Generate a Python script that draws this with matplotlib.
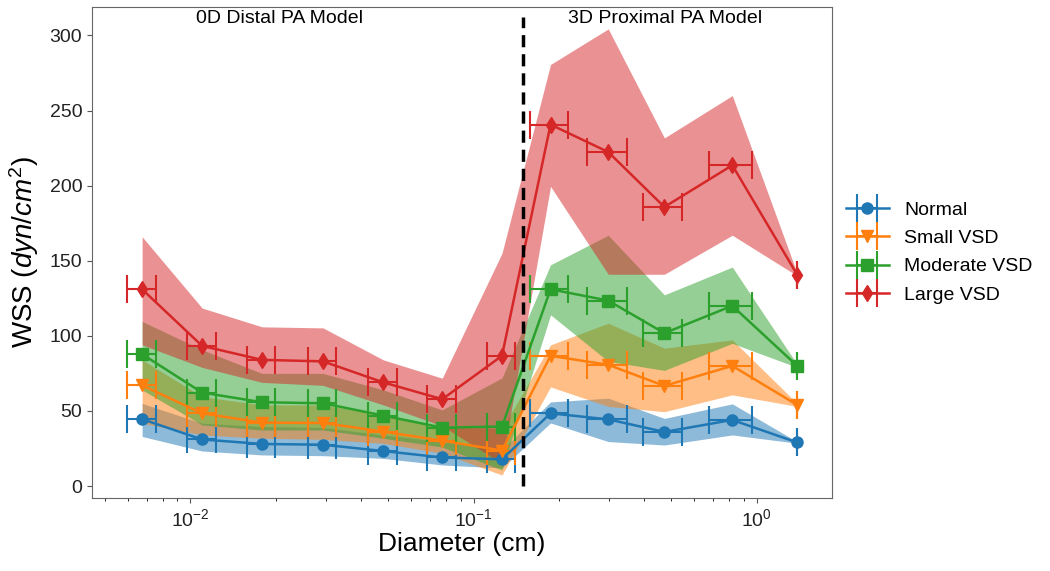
import numpy as np
import matplotlib
matplotlib.use("Agg")
from matplotlib import pyplot as plt

plt.rcParams['font.family'] = ['Liberation Sans', 'DejaVu Sans']
plt.rcParams['mathtext.fontset'] = 'custom'
plt.rcParams['mathtext.rm'] = 'Liberation Sans'
plt.rcParams['mathtext.it'] = 'Liberation Sans:italic'

# diameters (cm): 7 distal 0D vessels, 5 proximal 3D vessels
diam = [0.00675, 0.0110, 0.0179, 0.0294, 0.0480, 0.0775, 0.126,
        0.187, 0.299, 0.472, 0.820, 1.39]
diam_err = [0.00078, 0.00127, 0.00206, 0.00338, 0.00552, 0.0089, 0.0145,
            0.029, 0.048, 0.074, 0.14, 0.0]

labels = ["Normal", "Small VSD", "Moderate VSD", "Large VSD"]

normal = [44.5, 31, 28, 27.5, 23.3, 19, 17.8, 48.4, 44.4, 36, 44, 29]
normal_lo = [33, 23.3, 20.7, 20.2, 18.4, 14, 12, 42, 29.6, 27.3, 34, 28.5]
normal_hi = [55, 41.8, 39.6, 39, 34, 29.6, 24, 56, 58.5, 45, 54.7, 29.5]

small = [67, 48.4, 42.2, 42, 36.2, 30.2, 23.6, 86.7, 80.7, 66.7, 80, 54]
small_lo = [41.8, 34, 31.8, 31.1, 28.4, 21.8, 7.3, 66, 53, 49.5, 60.7, 53]
small_hi = [84, 59.5, 54, 54, 47.3, 39.6, 38, 94, 108.4, 91.8, 97.3, 55]

moderate = [87.8, 62.2, 55.8, 55.1, 46.9, 38.9, 39.6, 131, 123.5, 101.8, 120, 80]
moderate_lo = [64, 40.7, 37.3, 37.3, 31.8, 26, 10.7, 114, 83, 77, 95, 79]
moderate_hi = [109.6, 90.7, 75, 75, 64, 50.7, 72, 147.3, 167, 127.3, 145.8, 81]

large = [131, 93.3, 84, 83, 69, 57.8, 86.7, 240.7, 222.4, 185.8, 213.6, 140.7]
large_lo = [94, 79, 69, 67, 54, 40, 15, 199.5, 141, 141, 167, 140]
large_hi = [166, 118.5, 106, 105.3, 84, 71.8, 155, 280.7, 304.4, 231.8, 260, 141.5]

series = [(normal, normal_lo, normal_hi, "o", "tab:blue"),
          (small, small_lo, small_hi, "v", "tab:orange"),
          (moderate, moderate_lo, moderate_hi, "s", "tab:green"),
          (large, large_lo, large_hi, "d", "tab:red")]

DIVIDER = 0.15

fig = plt.figure(figsize=(10.5, 5.71), dpi=100)
ax = fig.add_axes([0.0876, 0.1278, 0.7048, 0.860])

for (mean, lo, hi, mk, col), lab in zip(series, labels):
  ax.fill_between(diam, lo, hi, color=col, alpha=0.5, linewidth=0)
  ax.errorbar(diam, mean, xerr=diam_err, marker=mk, color=col, label=lab,
              markersize=8, linewidth=1.8, elinewidth=1.5, capsize=10,
              capthick=1.5)

ax.vlines(DIVIDER, 0, 312, colors="black", linestyles=(0, (3.5, 2)),
          linewidth=2.5, zorder=5)

ax.set_xscale("log")
ax.set_xlim(0.00449, 1.845)
ax.set_ylim(-8, 319)
ax.set_yticks([0, 50, 100, 150, 200, 250, 300])
ax.tick_params(labelsize=14, colors="#555555", labelcolor="#222222")
for s in ax.spines.values():
  s.set_color("#666666")

ax.text(0.0207, 311, "0D Distal PA Model", ha="center", va="center", fontsize=14)
ax.text(0.475, 311, "3D Proximal PA Model", ha="center", va="center", fontsize=14)

ax.set_xlabel("Diameter (cm)", fontsize=19, labelpad=2)
ax.set_ylabel("WSS ($dyn/cm^2$)", fontsize=20, labelpad=6)

ax.legend(loc="center left", bbox_to_anchor=(0.995, 0.5), frameon=False,
          fontsize=14, handlelength=2.2, labelspacing=0.55)

fig.savefig("out.png", dpi=100)
